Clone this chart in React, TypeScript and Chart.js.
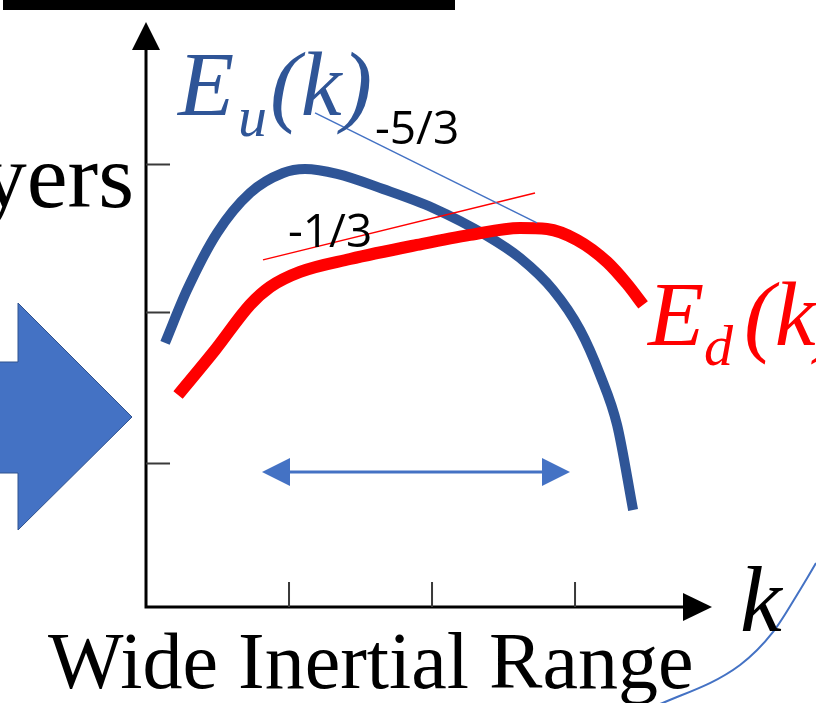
import React, { useEffect, useRef } from "react";
import { Chart, registerables } from "chart.js";

Chart.register(...registerables);

// wavenumber k (x) and energy spectrum E (y), schematic units
const kEu = [0.133, 0.287, 0.497, 0.727, 0.958, 1.112, 1.336, 1.657, 2.007, 2.385, 2.615, 2.846, 3.035, 3.175, 3.294, 3.406];
const eEu = [1.784, 2.142, 2.527, 2.797, 2.932, 2.959, 2.926, 2.824, 2.696, 2.507, 2.358, 2.142, 1.872, 1.568, 1.230, 0.655];

const kEd = [0.224, 0.483, 0.727, 0.867, 1.077, 1.427, 1.895, 2.266, 2.615, 2.804, 3.014, 3.224, 3.364, 3.476];
const eEd = [1.432, 1.736, 2.041, 2.162, 2.264, 2.351, 2.446, 2.514, 2.561, 2.554, 2.480, 2.331, 2.182, 2.041];

const kSlope53 = [1.182, 2.734];
const eSlope53 = [3.338, 2.595];
const kSlope13 = [0.818, 2.72];
const eSlope13 = [2.345, 2.797];

const kRange = [0.811, 2.965];
const eRange = [0.912, 0.912];

const kArc = [3.315, 3.629, 4.154, 4.385, 4.573, 4.685, 4.783];
const eArc = [-0.750, -0.642, -0.392, -0.169, 0.115, 0.297, 0.466];

const kTicks = [1, 2, 3];
const eTicks = [0.97, 1.99, 2.99];

const labelSlope53 = "-5/3";
const labelSlope13 = "-1/3";
const labelLeft = "Layers";
const labelBottom = "Wide Inertial Range";
const labelK = "k";

const pts = (xs: number[], ys: number[]) => xs.map((x, i) => ({ x, y: ys[i] }));

const BLUE_DARK = "#2F5597";
const BLUE = "#4472C4";
const RED = "#FF0000";

const overlay = {
  id: "overlay",
  beforeDraw(chart: any) {
    const { ctx, width, height } = chart;
    ctx.save();
    ctx.fillStyle = "#ffffff";
    ctx.fillRect(0, 0, width, height);
    ctx.restore();
  },
  beforeDatasetsDraw(chart: any) {
    const ctx = chart.ctx;
    const xs = chart.scales.x;
    const ys = chart.scales.y;
    const ox = xs.getPixelForValue(0);
    const oy = ys.getPixelForValue(0);
    ctx.save();
    // top black bar
    ctx.fillStyle = "#000";
    ctx.fillRect(3, 0, 452, 10);
    // big blue arrow
    ctx.beginPath();
    ctx.moveTo(-5, 362);
    ctx.lineTo(18, 362);
    ctx.lineTo(18, 303);
    ctx.lineTo(132, 417);
    ctx.lineTo(18, 530);
    ctx.lineTo(18, 473);
    ctx.lineTo(-5, 473);
    ctx.closePath();
    ctx.fillStyle = BLUE;
    ctx.fill();
    ctx.strokeStyle = "#2F528F";
    ctx.lineWidth = 1;
    ctx.stroke();
    // axes
    ctx.strokeStyle = "#000";
    ctx.fillStyle = "#000";
    ctx.lineWidth = 3;
    ctx.lineCap = "butt";
    ctx.beginPath();
    ctx.moveTo(ox, oy + 1.5);
    ctx.lineTo(ox, 48);
    ctx.moveTo(ox - 1.5, oy);
    ctx.lineTo(685, oy);
    ctx.stroke();
    ctx.beginPath();
    ctx.moveTo(ox, 22);
    ctx.lineTo(ox - 14, 50);
    ctx.lineTo(ox + 14, 50);
    ctx.closePath();
    ctx.fill();
    ctx.beginPath();
    ctx.moveTo(712, oy);
    ctx.lineTo(683, oy - 14);
    ctx.lineTo(683, oy + 14);
    ctx.closePath();
    ctx.fill();
    // ticks
    ctx.strokeStyle = "#3a3a3a";
    ctx.lineWidth = 2;
    ctx.beginPath();
    eTicks.forEach((v) => {
      const py = ys.getPixelForValue(v);
      ctx.moveTo(ox, py);
      ctx.lineTo(ox + 24, py);
    });
    kTicks.forEach((v) => {
      const px = xs.getPixelForValue(v);
      ctx.moveTo(px, oy);
      ctx.lineTo(px, oy - 25);
    });
    ctx.stroke();
    ctx.restore();
  },
  afterDatasetsDraw(chart: any) {
    const ctx = chart.ctx;
    const xs = chart.scales.x;
    const ys = chart.scales.y;
    ctx.save();
    // double-headed range arrow
    const x1 = xs.getPixelForValue(kRange[0]);
    const x2 = xs.getPixelForValue(kRange[1]);
    const y1 = ys.getPixelForValue(eRange[0]);
    ctx.strokeStyle = BLUE;
    ctx.fillStyle = BLUE;
    ctx.lineWidth = 3;
    ctx.beginPath();
    ctx.moveTo(x1 + 20, y1);
    ctx.lineTo(x2 - 20, y1);
    ctx.stroke();
    ctx.beginPath();
    ctx.moveTo(x1, y1);
    ctx.lineTo(x1 + 28, y1 - 14);
    ctx.lineTo(x1 + 28, y1 + 14);
    ctx.closePath();
    ctx.fill();
    ctx.beginPath();
    ctx.moveTo(x2, y1);
    ctx.lineTo(x2 - 28, y1 - 14);
    ctx.lineTo(x2 - 28, y1 + 14);
    ctx.closePath();
    ctx.fill();

    // texts
    ctx.textBaseline = "alphabetic";
    ctx.fillStyle = "#000";
    ctx.font = "92px 'Liberation Serif'";
    ctx.textAlign = "right";
    ctx.fillText(labelLeft, 134, 207);
    ctx.textAlign = "left";
    ctx.font = "80px 'Liberation Serif'";
    ctx.fillText(labelBottom, 48, 688);
    ctx.font = "italic 94px 'Liberation Serif'";
    ctx.fillText(labelK, 740, 631);

    ctx.font = "46px 'Open Sans'";
    ctx.fillText(labelSlope53, 375, 144);
    ctx.fillText(labelSlope13, 288, 247);

    // E_u(k)
    ctx.fillStyle = BLUE_DARK;
    ctx.font = "italic 92px 'Liberation Serif'";
    ctx.fillText("E", 178, 115);
    ctx.font = "italic 58px 'Liberation Serif'";
    ctx.fillText("u", 238, 136);
    ctx.font = "italic 92px 'Liberation Serif'";
    ctx.fillText("(k)", 270, 115);

    // E_d(k)
    ctx.fillStyle = RED;
    ctx.font = "italic 92px 'Liberation Serif'";
    ctx.fillText("E", 648, 345);
    ctx.font = "italic 58px 'Liberation Serif'";
    ctx.fillText("d", 704, 365);
    ctx.font = "italic 92px 'Liberation Serif'";
    ctx.fillText("(k)", 744, 345);
    ctx.restore();
  },
};

export default function App() {
  const ref = useRef<HTMLCanvasElement | null>(null);
  useEffect(() => {
    if (!ref.current) return;
    const chart = new Chart(ref.current, {
      type: "scatter",
      data: {
        datasets: [
          {
            data: pts(kSlope53, eSlope53),
            showLine: true,
            borderColor: BLUE,
            borderWidth: 1.5,
            pointRadius: 0,
          },
          {
            data: pts(kSlope13, eSlope13),
            showLine: true,
            borderColor: RED,
            borderWidth: 1.5,
            pointRadius: 0,
          },
          {
            data: pts(kEd, eEd),
            showLine: true,
            borderColor: RED,
            borderWidth: 12,
            pointRadius: 0,
            cubicInterpolationMode: "monotone",
            borderCapStyle: "butt",
            borderJoinStyle: "round",
          },
          {
            data: pts(kEu, eEu),
            showLine: true,
            borderColor: BLUE_DARK,
            borderWidth: 10,
            pointRadius: 0,
            cubicInterpolationMode: "monotone",
            borderCapStyle: "butt",
            borderJoinStyle: "round",
          },
          {
            data: pts(kArc, eArc),
            showLine: true,
            borderColor: BLUE,
            borderWidth: 2,
            pointRadius: 0,
            cubicInterpolationMode: "monotone",
          },
        ],
      },
      options: {
        responsive: false,
        animation: false,
        events: [],
        layout: { padding: 0 },
        plugins: {
          legend: { display: false },
          tooltip: { enabled: false },
        },
        scales: {
          x: { type: "linear", display: false, min: -1.021, max: 4.685 },
          y: { type: "linear", display: false, min: -0.649, max: 4.101 },
        },
      },
      plugins: [overlay],
    } as any);
    return () => chart.destroy();
  }, []);
  return (
    <div style={{ position: "fixed", left: 0, top: 0, width: 816, height: 703, background: "#fff" }}>
      <canvas ref={ref} width={816} height={703} style={{ display: "block" }} />
    </div>
  );
}
